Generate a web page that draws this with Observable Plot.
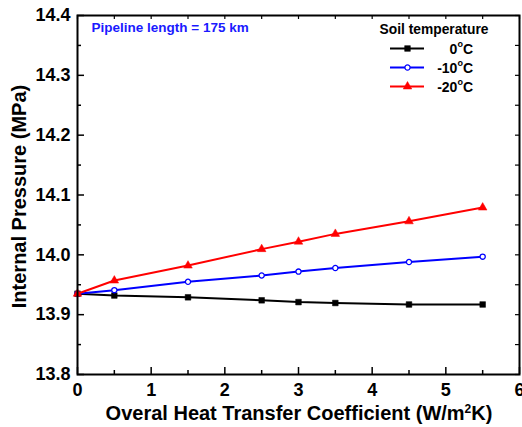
<!DOCTYPE html>
<html>
<head>
<meta charset="utf-8">
<script src="https://cdn.jsdelivr.net/npm/d3@7"></script>
<script src="https://cdn.jsdelivr.net/npm/@observablehq/plot@0.6"></script>
<style>
  html, body { margin: 0; padding: 0; background: #fff; }
  svg { font-family: "Liberation Sans", Arial, sans-serif; font-weight: bold; }
</style>
</head>
<body>
<div id="chart"></div>
<script>
// Overall heat transfer coefficient (W/m²K)
const coeff = [0, 0.5, 1.5, 2.5, 3, 3.5, 4.5, 5.5];
// Internal pressure (MPa) per soil temperature
const pressure0 = [13.935, 13.932, 13.929, 13.924, 13.921, 13.9195, 13.917, 13.917];
const pressure10 = [13.935, 13.941, 13.955, 13.9655, 13.972, 13.978, 13.988, 13.997];
const pressure20 = [13.935, 13.957, 13.982, 14.0095, 14.022, 14.035, 14.056, 14.079];

const seriesNames = ["0", "-10", "-20"];
const seriesColors = ["#000000", "#0000ff", "#ff0000"];
const seriesSymbols = ["square", "circle", "triangle"];

const xTicks = [0, 1, 2, 3, 4, 5, 6];
const xMinor = [0.5, 1.5, 2.5, 3.5, 4.5, 5.5];
const yTicks = [13.8, 13.9, 14.0, 14.1, 14.2, 14.3, 14.4];
const yMinor = [13.85, 13.95, 14.05, 14.15, 14.25, 14.35];

const title = "Pipeline length = 175 km";
const legendTitle = "Soil temperature";

const rows = [];
[pressure0, pressure10, pressure20].forEach((vals, i) => {
  vals.forEach((p, j) => rows.push({series: seriesNames[i], x: coeff[j], y: p}));
});

const W = 522, H = 427;
const mL = 77, mR = 3, mT = 15, mB = 53;
const innerW = W - mL - mR, innerH = H - mT - mB;

const marks = [];
// inward tick marks on all four sides
marks.push(Plot.tickX(xTicks, {x: d => d, insetTop: innerH - 7, stroke: "#000", strokeWidth: 1.5}));
marks.push(Plot.tickX(xMinor, {x: d => d, insetTop: innerH - 4, stroke: "#000", strokeWidth: 1.5}));
marks.push(Plot.tickX(xTicks.concat(xMinor), {x: d => d, insetBottom: innerH - 4, stroke: "#000", strokeWidth: 1.2}));
marks.push(Plot.tickY(yTicks, {y: d => d, insetRight: innerW - 7, stroke: "#000", strokeWidth: 1.5}));
marks.push(Plot.tickY(yMinor, {y: d => d, insetRight: innerW - 4, stroke: "#000", strokeWidth: 1.5}));
marks.push(Plot.tickY(yTicks.concat(yMinor), {y: d => d, insetLeft: innerW - 4, stroke: "#000", strokeWidth: 1.2}));

// series lines and markers
seriesNames.forEach((name, i) => {
  const data = rows.filter(r => r.series === name);
  marks.push(Plot.line(data, {x: "x", y: "y", stroke: seriesColors[i], strokeWidth: 2}));
  marks.push(Plot.dot(data, {
    x: "x", y: "y",
    symbol: () => seriesSymbols[i],
    r: i === 1 ? 2.6 : 3.2,
    fill: i === 1 ? "#fff" : seriesColors[i],
    stroke: seriesColors[i],
    strokeWidth: i === 1 ? 1.3 : 0.5
  }));
});

marks.push(Plot.frame({stroke: "#000", strokeWidth: 2}));

// tick labels
marks.push(Plot.axisX({ticks: xTicks, tickSize: 0, tickPadding: 9, fontSize: 18, fontWeight: "bold", label: null, tickFormat: d3.format("d")}));
marks.push(Plot.axisY({ticks: yTicks, tickSize: 0, tickPadding: 7, fontSize: 18, fontWeight: "bold", label: null, tickFormat: d3.format(".1f")}));

// annotation
marks.push(Plot.text([title], {frameAnchor: "top-left", dx: 14, dy: 7, text: d => d, fill: "#1a1aff", fontSize: 13.5, fontWeight: "bold", textAnchor: "start", lineAnchor: "top"}));

const chart = Plot.plot({
  width: W, height: H,
  marginLeft: mL, marginRight: mR, marginTop: mT, marginBottom: mB,
  x: {domain: [0, 6], axis: null},
  y: {domain: [13.8, 14.4], axis: null},
  symbol: {type: "identity"},
  style: {fontFamily: "'Liberation Sans', Arial, sans-serif", fontWeight: "bold", background: "#fff", overflow: "visible"},
  marks
});

const svg = d3.select(chart);

// axis titles with superscripts
const xt = svg.append("text")
  .attr("x", mL + innerW / 2 + 1).attr("y", 420)
  .attr("text-anchor", "middle")
  .attr("font-size", 20).attr("font-weight", "bold").attr("fill", "#000");
xt.append("tspan").text("Overal Heat Transfer Coefficient (W/m");
xt.append("tspan").text("2").attr("font-size", 12).attr("dy", "-0.6em");
xt.append("tspan").text("K)").attr("dy", "0.36em");

svg.append("text")
  .attr("transform", `translate(26,${mT + innerH / 2 + 2}) rotate(-90)`)
  .attr("text-anchor", "middle")
  .attr("font-size", 20).attr("font-weight", "bold").attr("fill", "#000")
  .text("Internal Pressure (MPa)");

// legend
const lg = svg.append("g");
lg.append("text").attr("x", 434).attr("y", 33.5).attr("text-anchor", "middle")
  .attr("font-size", 13.8).attr("font-weight", "bold").attr("fill", "#000").text(legendTitle);
const symMap = {square: d3.symbolSquare, circle: d3.symbolCircle, triangle: d3.symbolTriangle};
seriesNames.forEach((name, i) => {
  const y = 48.5 + i * 19;
  lg.append("line").attr("x1", 390).attr("x2", 424).attr("y1", y).attr("y2", y)
    .attr("stroke", seriesColors[i]).attr("stroke-width", 2);
  const r = i === 1 ? 2.6 : 3.2;
  lg.append("path")
    .attr("d", d3.symbol(symMap[seriesSymbols[i]], Math.PI * r * r)())
    .attr("transform", `translate(407.5,${y})`)
    .attr("fill", i === 1 ? "#fff" : seriesColors[i])
    .attr("stroke", seriesColors[i]).attr("stroke-width", i === 1 ? 1.3 : 0.5);
  const t = lg.append("text").attr("x", 473).attr("y", y + 5).attr("text-anchor", "end")
    .attr("font-size", 14).attr("font-weight", "bold").attr("fill", "#000");
  t.append("tspan").text(name);
  t.append("tspan").text("o").attr("font-size", 9).attr("dy", "-0.75em");
  t.append("tspan").text("C").attr("dy", "0.5em");
});

document.getElementById("chart").appendChild(chart);
</script>
</body>
</html>
